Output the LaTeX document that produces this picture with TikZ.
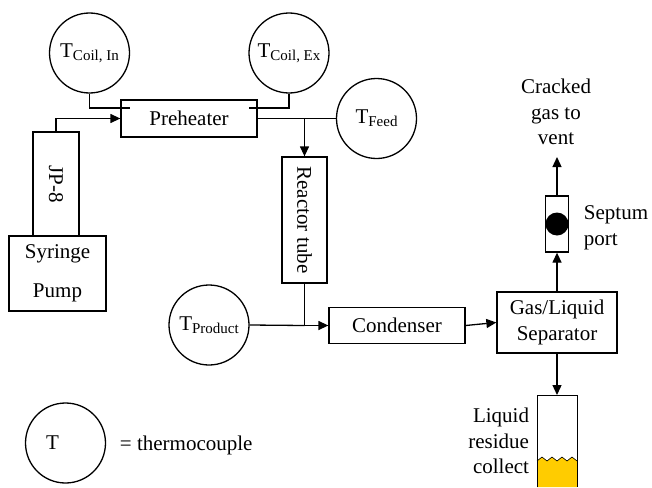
\documentclass[tikz,border=0pt]{standalone}
\usepackage{fontspec}
\setmainfont{Liberation Serif}
\newfontfamily\diagfont{Liberation Serif}
\usepackage{graphicx}
\usetikzlibrary{arrows.meta}
\definecolor{liquid}{RGB}{255,204,0}
\newcommand{\tcsub}[1]{T\raisebox{-0.3ex}{\fontsize{15}{15}\selectfont #1}}

\begin{document}
\begin{tikzpicture}[x=1pt, y=-1pt, line width=1.3pt,
	font=\diagfont\fontsize{21}{25.5}\selectfont,
	tcouple/.style={draw, circle, minimum size=80pt, inner sep=0pt},
	unit/.style={draw, rectangle, inner sep=0pt, align=center},
	flow/.style={-{Triangle[length=10pt,width=9pt]}}]
			\useasboundingbox (0,0) rectangle (652,487);
			\node[tcouple] (coilin) at (89.5,53) {\tcsub{Coil, In}};
			\node[tcouple] (coilex) at (289,53) {\tcsub{Coil, Ex}};
			\node[tcouple] (feed) at (376.5,118.5) {\tcsub{Feed}};
			\node[tcouple] (product) at (209,325) {\tcsub{Product}};
			\node[tcouple] (legend) at (65.5,443) {T\hspace*{26pt}};
			\node[anchor=west] (legendtext) at (116,445) {= thermocouple};

			\node[unit, minimum width=136pt, minimum height=37pt] (preheater) at (189,118.5) {Preheater};
			\node[unit, minimum width=46pt, minimum height=104pt] (jp8) at (56,184) {\rotatebox{-90}{JP-8}};
			\node[unit, minimum width=97pt, minimum height=75pt] (pump) at (57.5,273.5) {Syringe\\[13pt]Pump};
			\node[unit, minimum width=45pt, minimum height=126pt] (reactor) at (304.5,220) {\rotatebox{-90}{Reactor tube}};
			\node[unit, minimum width=136pt, minimum height=36pt] (condenser) at (397,325.5) {Condenser};
			\node[unit, minimum width=120pt, minimum height=61pt] (separator) at (557,322.5) {Gas/Liquid\\Separator};
			\node[unit, minimum width=23pt, minimum height=56pt] (septum) at (557,224) {};
			\node[circle, fill, minimum size=23pt, inner sep=0pt] (ball) at (septum.center) {};

			\node[align=center] (vent) at (556,112) {Cracked\\gas to\\vent};
			\node[align=left, anchor=west] (port) at (580,228) {Septum\\port};
			\node[align=right, anchor=east] (residue) at (533,441) {Liquid\\residue\\collect};

			\coordinate (inend) at (130,108);
			\coordinate (exend) at (249,108);
			\coordinate (feedjoin) at (304.5,118.5);
			\coordinate (prodjoin) at (304.5,325.5);
			\coordinate (ventend) at (557,157);
			\coordinate (coltop) at (557,395);

			\draw (coilin.south) |- (inend);
			\draw (coilex.south) |- (exend);
			\draw[flow] (jp8.north) |- (preheater.west);
			\draw (preheater.east) -- (feed.west);
			\draw[flow] (feedjoin) -- (reactor.north);
			\draw (product.east) -- (prodjoin);
			\draw[flow] (reactor.south) |- (condenser.west);
			\draw[flow] (condenser.east) -- (separator.west);
			\draw[flow] (separator.north) -- (septum.south);
			\draw[flow] (septum.north) -- (ventend);
			\draw[flow] (separator.south) -- (coltop);

			\fill[liquid] (537,461) -- (542,457) -- (547,461) -- (552,457) -- (557,461) -- (562,457) -- (567,461) -- (572,457) -- (577,461) -- (577,487) -- (537,487) -- cycle;
			\draw[line width=0.6pt] (537,461) -- (542,457) -- (547,461) -- (552,457) -- (557,461) -- (562,457) -- (567,461) -- (572,457) -- (577,461);
			\draw[line width=1pt] (537,487) -- (537,395) -- (577,395) -- (577,487);
\end{tikzpicture}
\end{document}
